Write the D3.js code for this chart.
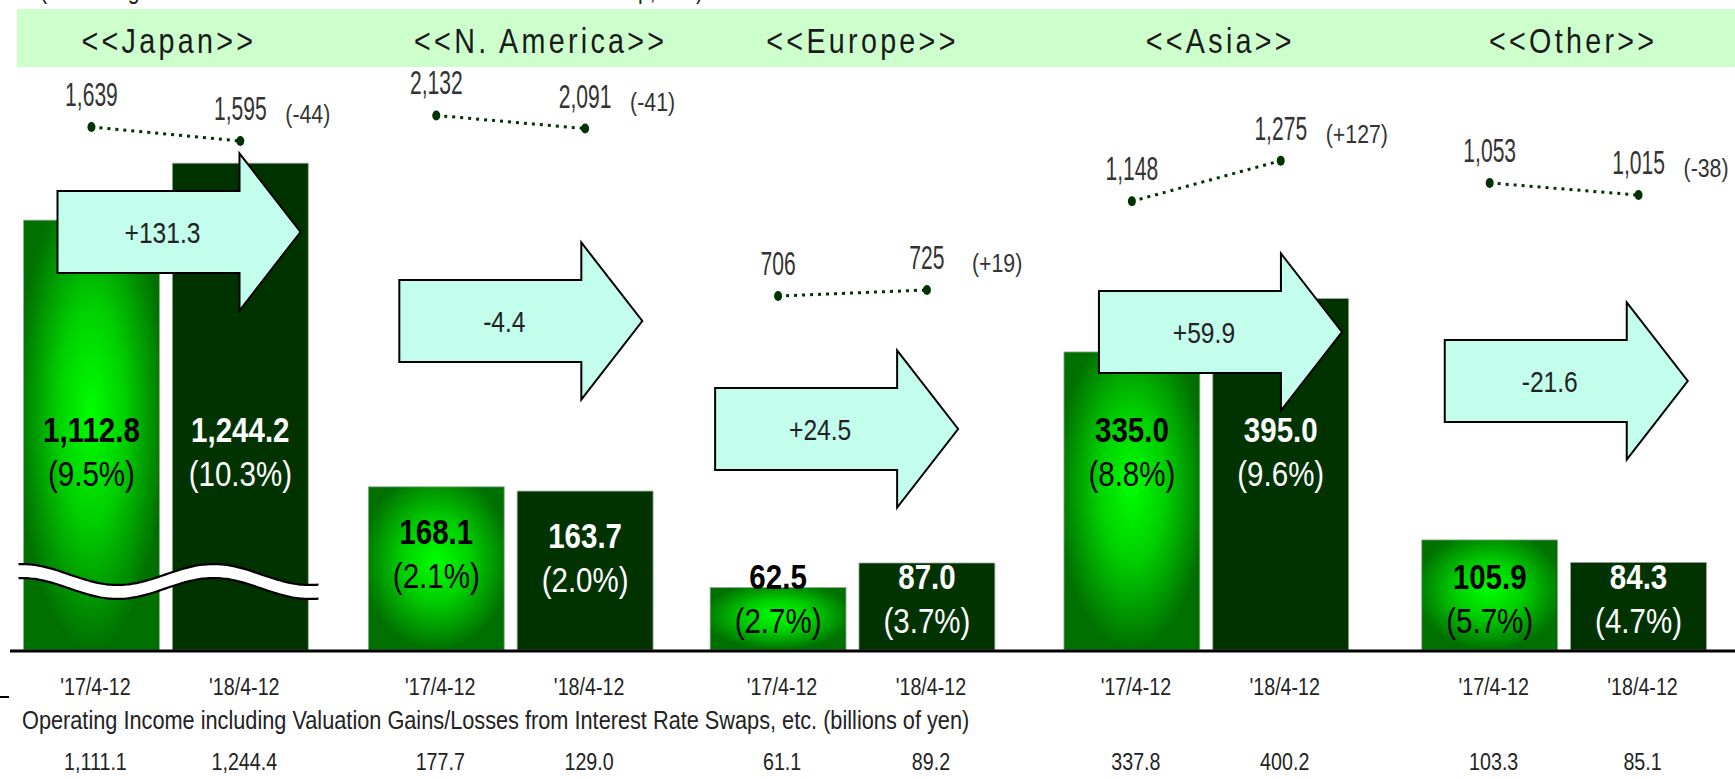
<!DOCTYPE html>
<html>
<head>
<meta charset="utf-8">
<script src="https://cdn.jsdelivr.net/npm/d3@7"></script>
<style>
  body { margin: 0; background: #fff; }
  svg { display: block; }
</style>
</head>
<body>
<svg id="chart" width="1735" height="779"></svg>
<script>
// ---- data ----
var regions = ["Japan", "N. America", "Europe", "Asia", "Other"];
var periods = ["'17/4-12", "'18/4-12"];
var income17 = [1112.8, 168.1, 62.5, 335.0, 105.9];
var income18 = [1244.2, 163.7, 87.0, 395.0, 84.3];
var margin17 = [9.5, 2.1, 2.7, 8.8, 5.7];
var margin18 = [10.3, 2.0, 3.7, 9.6, 4.7];
var incomeChange = [131.3, -4.4, 24.5, 59.9, -21.6];
var units17 = [1639, 2132, 706, 1148, 1053];
var units18 = [1595, 2091, 725, 1275, 1015];
var swapIncome17 = [1111.1, 177.7, 61.1, 337.8, 103.3];
var swapIncome18 = [1244.4, 129.0, 89.2, 400.2, 85.1];
var footnote = "Operating Income including Valuation Gains/Losses from Interest Rate Swaps, etc. (billions of yen)";
var topNote = "(Excluding eliminations and the head office function of the Group, etc.)";

// ---- layout of the slide (hand placed per region) ----
var axisMax = [null, 515, 500, 562, 481];   // each region has its own axis, Japan is broken
var regionDx = [1, -4, -12, -8, 0];
var headDx = [2, 24, -4, 4, 7];
var arrowDx = [34, 31, 5, 35, 23];
var arrowY = [232, 321, 429, 332, 381];
var unitY = [134, 122, 293, 181, 189];

var svg = d3.select("#chart"),
    width = +svg.attr("width"),
    height = +svg.attr("height");

// no narrow font installed, so squeeze Liberation Sans sideways
var FONT = "'Liberation Sans', Arial, sans-serif";
var SX = 0.82;
var baseY = 650;

function place(x, y, sx) {
    return "translate(" + x + "," + y + ") scale(" + (sx || SX) + ",1)";
}

var loc = d3.formatLocale({ decimal: ".", thousands: ",", grouping: [3], currency: ["", ""], minus: "-" });
var fmtVal = loc.format(",.1f"),
    fmtChg = loc.format("+.1f"),
    fmtUnit = loc.format(","),
    fmtUnitChg = loc.format("+,");

// scales
var x0 = d3.scaleBand().domain(regions).range([22.5, 1706.5]).paddingInner(0.186);
var x1 = d3.scaleBand().domain(periods).range([0, x0.bandwidth()]).paddingInner(0.087);
var unitOffset = d3.scaleLinear().domain([-100, 100]).range([32, -32]);

function yScale(i) {
    if (i === 0) {
        // broken axis for Japan
        return d3.scaleLinear().domain([0, 1000, 1300]).range([baseY, 269, 139]);
    }
    return d3.scaleLinear().domain([0, axisMax[i]]).range([baseY, baseY - 500]);
}

var rows = regions.map(function (r, i) {
    return {
        region: r, i: i, y: yScale(i), change: incomeChange[i],
        bars: [
            { period: periods[0], value: income17[i], margin: margin17[i], units: units17[i], swap: swapIncome17[i], k: 0 },
            { period: periods[1], value: income18[i], margin: margin18[i], units: units18[i], swap: swapIncome18[i], k: 1 }
        ]
    };
});

// gradient for the earlier period
var defs = svg.append("defs");
var grad = defs.append("radialGradient")
    .attr("id", "barGlow")
    .attr("cx", 0.5).attr("cy", 0.45).attr("r", 0.55);
grad.append("stop").attr("offset", "0%").attr("stop-color", "#00ff00");
grad.append("stop").attr("offset", "45%").attr("stop-color", "#00d000");
grad.append("stop").attr("offset", "100%").attr("stop-color", "#007000");

// cut off line at the very top
svg.append("text")
    .attr("transform", place(40, -1))
    .style("font-family", FONT).style("font-size", "26px").style("fill", "#222")
    .text(topNote);

// header band
svg.append("rect")
    .attr("x", 17).attr("y", 9)
    .attr("width", width - 17).attr("height", 58)
    .attr("fill", "#ccffcc");

svg.append("g").selectAll("text")
    .data(regions)
    .enter().append("text")
    .attr("transform", function (d, i) { return place(x0(d) + x0.bandwidth() / 2 + headDx[i] + 2, 53); })
    .attr("text-anchor", "middle")
    .style("font-family", FONT).style("font-size", "35px")
    .style("letter-spacing", "4px").style("fill", "#1a1a1a")
    .text(function (d) { return "<<" + d + ">>"; });

var region = svg.append("g").selectAll("g.region")
    .data(rows)
    .enter().append("g")
    .attr("class", "region")
    .attr("transform", function (d) { return "translate(" + (x0(d.region) + regionDx[d.i]) + ",0)"; });

// bars
region.each(function (row) {
    var g = d3.select(this);
    g.selectAll("rect.bar")
        .data(row.bars)
        .enter().append("rect")
        .attr("class", "bar")
        .attr("x", function (d) { return x1(d.period); })
        .attr("y", function (d) { return row.y(d.value); })
        .attr("width", x1.bandwidth())
        .attr("height", function (d) { return baseY - row.y(d.value); })
        .attr("fill", function (d) { return d.k === 0 ? "url(#barGlow)" : "#003300"; })
        .attr("stroke", "#9aa89a").attr("stroke-width", 0.8);
});

// axis break symbol on Japan
var breakPts = d3.range(-5, x0.bandwidth() + 12, 4).map(function (x) {
    return [x, 574.5 - 10.5 * Math.cos(2 * Math.PI * (x + 2) / 192)];
});
var jp = region.filter(function (d) { return d.i === 0; });
var line = d3.line().curve(d3.curveBasis);
jp.append("path")
    .attr("d", line(breakPts.concat(breakPts.slice().reverse().map(function (p) { return [p[0], p[1] + 14]; }))))
    .attr("fill", "#fff");
jp.append("path").attr("d", line(breakPts))
    .attr("fill", "none").attr("stroke", "#000").attr("stroke-width", 2.2);
jp.append("path").attr("d", line(breakPts.map(function (p) { return [p[0], p[1] + 14]; })))
    .attr("fill", "none").attr("stroke", "#000").attr("stroke-width", 2.2);

// change arrows
region.append("path")
    .attr("d", function (d) {
        var L = arrowDx[d.i], cy = arrowY[d.i];
        return d3.line()([[L, cy - 41], [L + 182, cy - 41], [L + 182, cy - 78.5], [L + 243, cy],
            [L + 182, cy + 78.5], [L + 182, cy + 41], [L, cy + 41]]) + "Z";
    })
    .attr("fill", "#c3fdeb")
    .attr("stroke", "#000").attr("stroke-width", 2);

region.append("text")
    .attr("transform", function (d) { return place(arrowDx[d.i] + 105, arrowY[d.i] + 11); })
    .attr("text-anchor", "middle")
    .style("font-family", FONT).style("font-size", "30px").style("fill", "#222")
    .text(function (d) { return fmtChg(d.change); });

// value labels in the bars
region.each(function (row) {
    var g = d3.select(this);
    var lab = g.selectAll("g.lab")
        .data(row.bars)
        .enter().append("g")
        .attr("class", "lab")
        .attr("transform", function (d) {
            var vy = Math.max(442, Math.min(row.y(d.value) + 57, 589));
            return "translate(" + (x1(d.period) + x1.bandwidth() / 2) + "," + vy + ")";
        })
        .style("fill", function (d) { return d.k === 0 ? "#000" : "#fff"; })
        .style("font-family", FONT);
    lab.append("text")
        .attr("transform", place(0, 0))
        .attr("text-anchor", "middle")
        .style("font-size", "36px").style("font-weight", "bold")
        .text(function (d) { return fmtVal(d.value); });
    lab.append("text")
        .attr("transform", place(0, 44))
        .attr("text-anchor", "middle")
        .style("font-size", "36px")
        .text(function (d) { return "(" + d.margin.toFixed(1) + "%)"; });
});

// unit lines over each region
region.each(function (row) {
    var g = d3.select(this);
    var mean = d3.mean(row.bars, function (d) { return d.units; });
    var pts = row.bars.map(function (d) {
        return { d: d, x: x1(d.period) + x1.bandwidth() / 2, y: unitY[row.i] + unitOffset(d.units - mean) };
    });
    g.append("path")
        .attr("d", d3.line().x(function (p) { return p.x; }).y(function (p) { return p.y; })(pts))
        .attr("stroke", "#003300").attr("stroke-width", 3)
        .attr("stroke-dasharray", "3,5").attr("fill", "none");
    g.selectAll("ellipse")
        .data(pts)
        .enter().append("ellipse")
        .attr("cx", function (p) { return p.x; })
        .attr("cy", function (p) { return p.y; })
        .attr("rx", 4).attr("ry", 5)
        .attr("fill", "#003300");
    g.selectAll("text.ulab")
        .data(pts)
        .enter().append("text")
        .attr("class", "ulab")
        .attr("transform", function (p) { return place(p.x, p.y - 21, 0.62); })
        .attr("text-anchor", "middle")
        .style("font-family", FONT).style("font-size", "34px").style("fill", "#333")
        .text(function (p) { return fmtUnit(p.d.units); });
    g.append("text")
        .attr("transform", place(pts[1].x + 45, pts[1].y - 18))
        .style("font-family", FONT).style("font-size", "26px").style("fill", "#333")
        .text("(" + fmtUnitChg(row.bars[1].units - row.bars[0].units) + ")");
});

// period labels and the swap adjusted figures
region.each(function (row) {
    var g = d3.select(this);
    g.selectAll("text.period")
        .data(row.bars)
        .enter().append("text")
        .attr("class", "period")
        .attr("transform", function (d) { return place(x1(d.period) + x1.bandwidth() / 2 + 4, 695); })
        .attr("text-anchor", "middle")
        .style("font-family", FONT).style("font-size", "24px").style("fill", "#222")
        .text(function (d) { return d.period; });
    g.selectAll("text.swap")
        .data(row.bars)
        .enter().append("text")
        .attr("class", "swap")
        .attr("transform", function (d) { return place(x1(d.period) + x1.bandwidth() / 2 + 4, 770); })
        .attr("text-anchor", "middle")
        .style("font-family", FONT).style("font-size", "24px").style("fill", "#222")
        .text(function (d) { return fmtVal(d.swap); });
});

// base line
svg.append("line")
    .attr("x1", 10).attr("x2", width)
    .attr("y1", baseY + 1).attr("y2", baseY + 1)
    .attr("stroke", "#000").attr("stroke-width", 3);

svg.append("line")
    .attr("x1", 0).attr("x2", 9)
    .attr("y1", 697).attr("y2", 697)
    .attr("stroke", "#000").attr("stroke-width", 2);

svg.append("text")
    .attr("transform", place(22, 729))
    .style("font-family", FONT).style("font-size", "26.5px").style("fill", "#222")
    .text(footnote);
</script>
</body>
</html>
